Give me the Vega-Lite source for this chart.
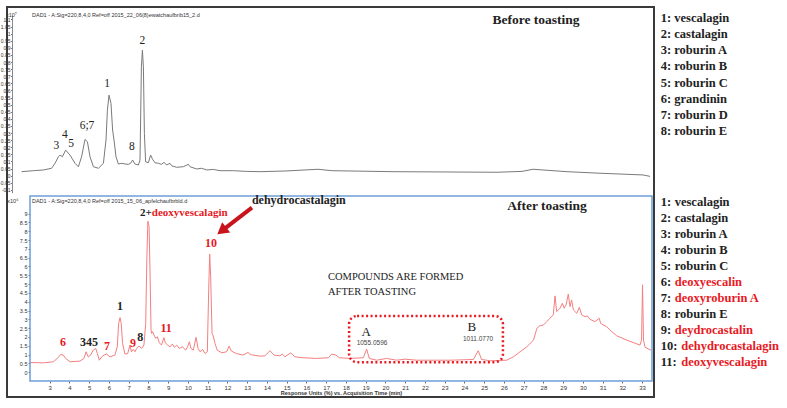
{
  "$schema": "https://vega.github.io/schema/vega-lite/v6.json",
  "width": 647,
  "height": 390,
  "autosize": "none",
  "padding": {"left": 7, "top": 7, "right": 133, "bottom": 11},
  "background": "white",
  "config": {"view": {"stroke": "#3a3a3a", "strokeWidth": 2}},
  "resolve": {"scale": {"x": "independent", "y": "independent", "color": "independent"}, "axis": {"x": "independent", "y": "independent"}},
  "layer": [
    {
      "encoding": {
        "x": {"field": "t", "type": "quantitative", "scale": {"domain": [1.5, 33.5], "range": [5, 645], "nice": false, "zero": false}, "axis": null},
        "y": {"field": "v", "type": "quantitative", "scale": {"domain": [-0.12, 1.13], "range": [185.7, 8.2], "nice": false, "zero": false},
          "axis": {"orient": "left", "offset": -5, "title": null, "values": [-0.1, -0.05, 0, 0.05, 0.1, 0.15, 0.2, 0.25, 0.3, 0.35, 0.4, 0.45, 0.5, 0.55, 0.6, 0.65, 0.7, 0.75, 0.8, 0.85, 0.9, 0.95, 1, 1.05, 1.1], "format": "~g", "labelExpr": "replace(datum.label, '−', '-')", "labelFontSize": 5, "labelFont": "Liberation Sans", "labelColor": "#333", "tickSize": 1.5, "tickColor": "#777", "labelPadding": 0.5, "domainColor": "#888", "grid": false}}
      },
      "layer": [
        {
          "data": {"values": [
            {"t": 1.98, "v": 0.028}, {"t": 2.57, "v": 0.035}, {"t": 3.07, "v": 0.04}, {"t": 3.48, "v": 0.052}, {"t": 3.65, "v": 0.087}, {"t": 3.82, "v": 0.133}, {"t": 3.9, "v": 0.145}, {"t": 4.02, "v": 0.133}, {"t": 4.18, "v": 0.18}, {"t": 4.4, "v": 0.145}, {"t": 4.65, "v": 0.087}, {"t": 4.82, "v": 0.063}, {"t": 4.98, "v": 0.133}, {"t": 5.15, "v": 0.255}, {"t": 5.27, "v": 0.239}, {"t": 5.4, "v": 0.133}, {"t": 5.57, "v": 0.063}, {"t": 5.82, "v": 0.052}, {"t": 6.07, "v": 0.087}, {"t": 6.2, "v": 0.251}, {"t": 6.27, "v": 0.461}, {"t": 6.35, "v": 0.567}, {"t": 6.45, "v": 0.508}, {"t": 6.53, "v": 0.321}, {"t": 6.6, "v": 0.251}, {"t": 6.7, "v": 0.133}, {"t": 6.82, "v": 0.082}, {"t": 6.98, "v": 0.087}, {"t": 7.15, "v": 0.082}, {"t": 7.32, "v": 0.08}, {"t": 7.43, "v": 0.087}, {"t": 7.53, "v": 0.11}, {"t": 7.65, "v": 0.082}, {"t": 7.82, "v": 0.075}, {"t": 7.9, "v": 0.11}, {"t": 7.97, "v": 0.766}, {"t": 8.02, "v": 0.883}, {"t": 8.07, "v": 0.766}, {"t": 8.12, "v": 0.297}, {"t": 8.18, "v": 0.098}, {"t": 8.32, "v": 0.091}, {"t": 8.43, "v": 0.145}, {"t": 8.53, "v": 0.115}, {"t": 8.65, "v": 0.091}, {"t": 8.82, "v": 0.087}, {"t": 8.98, "v": 0.08}, {"t": 9.1, "v": 0.094}, {"t": 9.23, "v": 0.075}, {"t": 9.4, "v": 0.087}, {"t": 9.48, "v": 0.07}, {"t": 9.73, "v": 0.059}, {"t": 10.07, "v": 0.063}, {"t": 10.32, "v": 0.08}, {"t": 10.4, "v": 0.063}, {"t": 10.73, "v": 0.047}, {"t": 10.98, "v": 0.052}, {"t": 11.23, "v": 0.04}, {"t": 11.57, "v": 0.044}, {"t": 11.9, "v": 0.035}, {"t": 12.57, "v": 0.035}, {"t": 13.23, "v": 0.03}, {"t": 13.9, "v": 0.028}, {"t": 15.2, "v": 0.033}, {"t": 16.8, "v": 0.045}, {"t": 17.5, "v": 0.035}, {"t": 20.55, "v": 0.028}, {"t": 25.75, "v": 0.024}, {"t": 27.0, "v": 0.03}, {"t": 27.55, "v": 0.045}, {"t": 28.05, "v": 0.04}, {"t": 29.25, "v": 0.028}, {"t": 30.9, "v": 0.017}, {"t": 33.05, "v": 0.005}, {"t": 33.4, "v": -0.005}
          ]},
          "mark": {"type": "line", "color": "#7a7a7a", "strokeWidth": 1}
        },
        {
          "data": {"values": [
            {"t": 3.72, "v": 0.211, "label": "3"}, {"t": 4.14, "v": 0.283, "label": "4"}, {"t": 4.45, "v": 0.223, "label": "5"}, {"t": 5.25, "v": 0.35, "label": "6;7"}, {"t": 6.25, "v": 0.646, "label": "1"}, {"t": 7.49, "v": 0.204, "label": "8"}, {"t": 8.02, "v": 0.951, "label": "2"}
          ]},
          "mark": {"type": "text", "font": "Liberation Serif", "fontSize": 11.5, "color": "#222", "align": "center", "baseline": "middle"},
          "encoding": {"text": {"field": "label"}}
        },
        {
          "data": {"values": [{"t": 27.7, "v": 1.096, "label": "Before toasting"}]},
          "mark": {"type": "text", "font": "Liberation Serif", "fontSize": 13.5, "fontWeight": "bold", "color": "#222", "align": "center", "baseline": "middle"},
          "encoding": {"text": {"field": "label"}}
        },
        {
          "data": {"values": [{"t": 2.5, "v": 1.13, "label": "DAD1 - A:Sig=220,8,4,0 Ref=off 2015_22_06(8)ewatchaufbrib15_2.d"}, {"t": 1.2, "v": 1.13, "label": "x10⁷"}]},
          "mark": {"type": "text", "font": "Liberation Sans", "fontSize": 5.5, "color": "#333", "align": "left", "baseline": "middle"},
          "encoding": {"text": {"field": "label"}}
        }
      ]
    },
    {
      "encoding": {
        "x": {"field": "t", "type": "quantitative", "scale": {"domain": [2, 33.5], "range": [23, 645], "nice": false, "zero": false},
          "axis": {"orient": "bottom", "offset": -16, "values": [3, 4, 5, 6, 7, 8, 9, 10, 11, 12, 13, 14, 15, 16, 17, 18, 19, 20, 21, 22, 23, 24, 25, 26, 27, 28, 29, 30, 31, 32, 33], "domain": false, "tickSize": 2, "tickColor": "#666", "labelFontSize": 6, "labelFont": "Liberation Sans", "labelColor": "#333", "labelPadding": 1, "grid": false, "title": "Response Units (%) vs. Acquisition Time (min)", "titleFontSize": 5.5, "titleFont": "Liberation Sans", "titleFontWeight": "bold", "titleColor": "#333", "titlePadding": 0}},
        "y": {"field": "v", "type": "quantitative", "scale": {"domain": [-0.5, 10], "range": [374, 189], "nice": false, "zero": false},
          "axis": {"orient": "left", "offset": -23, "title": null, "values": [0, 0.5, 1, 1.5, 2, 2.5, 3, 3.5, 4, 4.5, 5, 5.5, 6, 6.5, 7, 7.5, 8, 8.5, 9], "format": "~g", "domain": false, "tickSize": 2, "tickColor": "#777", "labelFontSize": 5.5, "labelFont": "Liberation Sans", "labelColor": "#333", "labelPadding": 1, "grid": false}}
      },
      "layer": [
        {
          "data": {"values": [{"t": 2, "t2": 33.5, "v": -0.5, "v2": 10}]},
          "mark": {"type": "rect", "fillOpacity": 0, "stroke": "#6e9fd9", "strokeWidth": 1.5},
          "encoding": {"x2": {"field": "t2"}, "y2": {"field": "v2"}}
        },
        {
          "data": {"values": [
            {"t": 2.03, "v": 0.55}, {"t": 2.68, "v": 0.53}, {"t": 3.18, "v": 0.59}, {"t": 3.38, "v": 0.78}, {"t": 3.55, "v": 1.0}, {"t": 3.69, "v": 0.97}, {"t": 3.81, "v": 0.78}, {"t": 4.03, "v": 0.59}, {"t": 4.53, "v": 0.63}, {"t": 4.73, "v": 0.78}, {"t": 4.84, "v": 1.16}, {"t": 4.95, "v": 0.87}, {"t": 5.07, "v": 0.97}, {"t": 5.2, "v": 1.25}, {"t": 5.33, "v": 1.35}, {"t": 5.41, "v": 1.06}, {"t": 5.51, "v": 0.68}, {"t": 5.63, "v": 0.87}, {"t": 5.75, "v": 0.97}, {"t": 5.88, "v": 1.03}, {"t": 6.05, "v": 0.87}, {"t": 6.3, "v": 0.97}, {"t": 6.42, "v": 1.44}, {"t": 6.49, "v": 2.77}, {"t": 6.56, "v": 3.1}, {"t": 6.62, "v": 2.77}, {"t": 6.69, "v": 1.63}, {"t": 6.81, "v": 1.03}, {"t": 6.95, "v": 1.06}, {"t": 7.06, "v": 1.54}, {"t": 7.14, "v": 1.16}, {"t": 7.23, "v": 1.29}, {"t": 7.32, "v": 1.16}, {"t": 7.4, "v": 1.35}, {"t": 7.52, "v": 1.48}, {"t": 7.66, "v": 1.35}, {"t": 7.77, "v": 1.54}, {"t": 7.86, "v": 2.77}, {"t": 7.92, "v": 6.57}, {"t": 7.97, "v": 8.57}, {"t": 8.03, "v": 8.28}, {"t": 8.08, "v": 5.62}, {"t": 8.13, "v": 2.39}, {"t": 8.16, "v": 2.2}, {"t": 8.21, "v": 2.3}, {"t": 8.28, "v": 2.11}, {"t": 8.36, "v": 1.92}, {"t": 8.45, "v": 2.01}, {"t": 8.55, "v": 1.67}, {"t": 8.66, "v": 1.54}, {"t": 8.78, "v": 1.96}, {"t": 8.85, "v": 1.67}, {"t": 8.97, "v": 1.54}, {"t": 9.09, "v": 1.44}, {"t": 9.21, "v": 1.6}, {"t": 9.31, "v": 1.41}, {"t": 9.43, "v": 1.54}, {"t": 9.56, "v": 1.35}, {"t": 9.73, "v": 1.44}, {"t": 9.88, "v": 1.25}, {"t": 9.98, "v": 1.44}, {"t": 10.07, "v": 1.73}, {"t": 10.15, "v": 1.35}, {"t": 10.27, "v": 1.25}, {"t": 10.41, "v": 1.98}, {"t": 10.51, "v": 1.35}, {"t": 10.61, "v": 1.16}, {"t": 10.74, "v": 1.29}, {"t": 10.86, "v": 1.06}, {"t": 10.98, "v": 1.16}, {"t": 11.05, "v": 4.67}, {"t": 11.1, "v": 6.7}, {"t": 11.15, "v": 5.43}, {"t": 11.22, "v": 2.2}, {"t": 11.28, "v": 2.07}, {"t": 11.37, "v": 1.63}, {"t": 11.48, "v": 1.25}, {"t": 11.71, "v": 1.1}, {"t": 11.96, "v": 1.16}, {"t": 12.08, "v": 1.48}, {"t": 12.2, "v": 1.2}, {"t": 12.45, "v": 1.06}, {"t": 12.79, "v": 0.97}, {"t": 13.04, "v": 1.12}, {"t": 13.16, "v": 1.0}, {"t": 13.65, "v": 0.91}, {"t": 13.9, "v": 0.93}, {"t": 14.15, "v": 1.22}, {"t": 14.36, "v": 0.97}, {"t": 14.66, "v": 0.93}, {"t": 14.78, "v": 1.03}, {"t": 14.91, "v": 0.87}, {"t": 15.2, "v": 1.1}, {"t": 15.42, "v": 0.87}, {"t": 15.84, "v": 0.82}, {"t": 16.52, "v": 0.78}, {"t": 17.11, "v": 0.82}, {"t": 17.28, "v": 1.03}, {"t": 17.5, "v": 0.97}, {"t": 17.66, "v": 0.82}, {"t": 18.21, "v": 0.78}, {"t": 18.88, "v": 0.82}, {"t": 19.05, "v": 1.31}, {"t": 19.18, "v": 0.78}, {"t": 19.56, "v": 0.68}, {"t": 20.06, "v": 0.78}, {"t": 20.57, "v": 0.68}, {"t": 20.99, "v": 0.74}, {"t": 21.58, "v": 0.68}, {"t": 23.27, "v": 0.68}, {"t": 24.45, "v": 0.72}, {"t": 24.7, "v": 1.22}, {"t": 24.87, "v": 0.72}, {"t": 25.3, "v": 0.65}, {"t": 26.14, "v": 0.68}, {"t": 26.48, "v": 0.87}, {"t": 26.82, "v": 1.16}, {"t": 27.16, "v": 1.44}, {"t": 27.5, "v": 1.82}, {"t": 27.67, "v": 2.49}, {"t": 27.8, "v": 2.62}, {"t": 28.0, "v": 2.68}, {"t": 28.17, "v": 2.87}, {"t": 28.33, "v": 3.06}, {"t": 28.5, "v": 3.25}, {"t": 28.59, "v": 4.33}, {"t": 28.67, "v": 3.44}, {"t": 28.84, "v": 3.63}, {"t": 28.96, "v": 3.91}, {"t": 29.05, "v": 3.63}, {"t": 29.15, "v": 3.82}, {"t": 29.26, "v": 4.43}, {"t": 29.35, "v": 3.72}, {"t": 29.43, "v": 4.1}, {"t": 29.52, "v": 3.53}, {"t": 29.69, "v": 3.34}, {"t": 29.82, "v": 3.68}, {"t": 29.94, "v": 3.25}, {"t": 30.11, "v": 3.15}, {"t": 30.23, "v": 3.19}, {"t": 30.36, "v": 3.0}, {"t": 30.61, "v": 2.87}, {"t": 30.83, "v": 3.06}, {"t": 30.9, "v": 2.77}, {"t": 31.2, "v": 2.58}, {"t": 31.46, "v": 2.3}, {"t": 31.71, "v": 2.07}, {"t": 32.22, "v": 1.82}, {"t": 32.89, "v": 1.54}, {"t": 32.97, "v": 1.82}, {"t": 33.02, "v": 4.96}, {"t": 33.07, "v": 1.82}, {"t": 33.15, "v": 1.41}, {"t": 33.45, "v": 1.25}
          ]},
          "mark": {"type": "line", "color": "#f47f7f", "strokeWidth": 1}
        },
        {
          "data": {"values": [{"t": 18.16, "t2": 25.95, "v": 3.19, "v2": 0.57}]},
          "mark": {"type": "rect", "fillOpacity": 0, "stroke": "#e8191f", "strokeWidth": 2.5, "strokeDash": [2, 2.5], "cornerRadius": 8},
          "encoding": {"x2": {"field": "t2"}, "y2": {"field": "v2"}}
        },
        {
          "data": {"values": [{"t": 13.24, "t2": 11.71, "v": 9.34, "v2": 8.02}]},
          "mark": {"type": "rule", "color": "#c8141c", "strokeWidth": 4},
          "encoding": {"x2": {"field": "t2"}, "y2": {"field": "v2"}}
        },
        {
          "data": {"values": [{"t": 11.71, "v": 8.02}]},
          "mark": {"type": "point", "shape": "triangle-up", "filled": true, "color": "#c8141c", "size": 170, "angle": 232, "opacity": 1}
        },
        {
          "data": {"values": [
            {"t": 3.67, "v": 1.71, "label": "6", "kind": "new"}, {"t": 4.99, "v": 1.71, "label": "345", "kind": "old"}, {"t": 5.9, "v": 1.48, "label": "7", "kind": "new"}, {"t": 6.56, "v": 3.76, "label": "1", "kind": "old"}, {"t": 7.22, "v": 1.65, "label": "9", "kind": "new"}, {"t": 7.58, "v": 1.98, "label": "8", "kind": "old"}, {"t": 8.89, "v": 2.51, "label": "11", "kind": "new"}, {"t": 11.17, "v": 7.35, "label": "10", "kind": "new"}
          ]},
          "mark": {"type": "text", "font": "Liberation Serif", "fontSize": 12, "fontWeight": "bold", "align": "center", "baseline": "middle"},
          "encoding": {"text": {"field": "label"}, "color": {"field": "kind", "type": "nominal", "scale": {"domain": ["old", "new"], "range": ["#222222", "#e8191f"]}, "legend": null}}
        },
        {
          "data": {"values": [{"t": 7.57, "v": 9.06, "label": "deoxyvescalagin"}]},
          "mark": {"type": "text", "font": "Liberation Serif", "fontSize": 11, "fontWeight": "bold", "color": "#e8191f", "align": "left", "baseline": "middle", "dx": 11.8},
          "encoding": {"text": {"field": "label"}}
        },
        {
          "data": {"values": [{"t": 7.57, "v": 9.06, "label": "2+"}]},
          "mark": {"type": "text", "font": "Liberation Serif", "fontSize": 11, "fontWeight": "bold", "color": "#222", "align": "left", "baseline": "middle"},
          "encoding": {"text": {"field": "label"}}
        },
        {
          "data": {"values": [{"t": 13.24, "v": 9.8, "label": "dehydrocastalagin"}]},
          "mark": {"type": "text", "font": "Liberation Serif", "fontSize": 12, "fontWeight": "bold", "color": "#222", "align": "left", "baseline": "middle"},
          "encoding": {"text": {"field": "label"}}
        },
        {
          "data": {"values": [{"t": 28.18, "v": 9.46, "label": "After toasting"}]},
          "mark": {"type": "text", "font": "Liberation Serif", "fontSize": 13.5, "fontWeight": "bold", "color": "#222", "align": "center", "baseline": "middle"},
          "encoding": {"text": {"field": "label"}}
        },
        {
          "data": {"values": [{"t": 17.09, "v": 5.41, "label": "COMPOUNDS ARE FORMED"}, {"t": 17.09, "v": 4.56, "label": "AFTER TOASTING"}]},
          "mark": {"type": "text", "font": "Liberation Serif", "fontSize": 10.5, "color": "#222", "align": "left", "baseline": "middle"},
          "encoding": {"text": {"field": "label"}}
        },
        {
          "data": {"values": [{"t": 19.02, "v": 2.28, "label": "A"}, {"t": 24.38, "v": 2.56, "label": "B"}]},
          "mark": {"type": "text", "font": "Liberation Serif", "fontSize": 13, "color": "#222", "align": "center", "baseline": "middle"},
          "encoding": {"text": {"field": "label"}}
        },
        {
          "data": {"values": [{"t": 19.32, "v": 1.65, "label": "1055.0596"}, {"t": 24.69, "v": 1.88, "label": "1011.0770"}]},
          "mark": {"type": "text", "font": "Liberation Sans", "fontSize": 6.5, "color": "#444", "align": "center", "baseline": "middle"},
          "encoding": {"text": {"field": "label"}}
        },
        {
          "data": {"values": [{"t": 2.1, "v": 9.69, "label": "DAD1 - A:Sig=220,8,4,0 Ref=off 2015_15_06_apfelchaufbrbld.d"}, {"t": 0.85, "v": 9.69, "label": "x10⁶"}]},
          "mark": {"type": "text", "font": "Liberation Sans", "fontSize": 5.5, "color": "#333", "align": "left", "baseline": "middle"},
          "encoding": {"text": {"field": "label"}}
        }
      ]
    },
    {
      "data": {"values": [
        {"i": 1, "col": "L", "label": "1: vescalagin"},
        {"i": 2, "col": "L", "label": "2: castalagin"},
        {"i": 3, "col": "L", "label": "3: roburin A"},
        {"i": 4, "col": "L", "label": "4: roburin B"},
        {"i": 5, "col": "L", "label": "5: roburin C"},
        {"i": 6, "col": "L", "label": "6: grandinin"},
        {"i": 7, "col": "L", "label": "7: roburin D"},
        {"i": 8, "col": "L", "label": "8: roburin E"}
      ]},
      "encoding": {
        "x": {"field": "col", "type": "nominal", "scale": {"type": "point", "range": [653.7, 653.7]}, "axis": null},
        "y": {"field": "i", "type": "ordinal", "scale": {"type": "point", "domain": [1, 2, 3, 4, 5, 6, 7, 8], "range": [11.3, 123.7], "padding": 0}, "axis": null}
      },
      "layer": [
        {
          "mark": {"type": "text", "font": "Liberation Serif", "fontSize": 12.5, "fontWeight": "bold", "color": "#222", "align": "left", "baseline": "middle"},
          "encoding": {"text": {"field": "label"}}
        }
      ]
    },
    {
      "data": {"values": [
        {"i": 1, "col": "L", "num": "1:", "name": "vescalagin", "kind": "old"},
        {"i": 2, "col": "L", "num": "2:", "name": "castalagin", "kind": "old"},
        {"i": 3, "col": "L", "num": "3:", "name": "roburin A", "kind": "old"},
        {"i": 4, "col": "L", "num": "4:", "name": "roburin B", "kind": "old"},
        {"i": 5, "col": "L", "num": "5:", "name": "roburin C", "kind": "old"},
        {"i": 6, "col": "L", "num": "6:", "name": "deoxyescalin", "kind": "new"},
        {"i": 7, "col": "L", "num": "7:", "name": "deoxyroburin A", "kind": "new"},
        {"i": 8, "col": "L", "num": "8:", "name": "roburin E", "kind": "old"},
        {"i": 9, "col": "L", "num": "9:", "name": "deydrocastalin", "kind": "new"},
        {"i": 10, "col": "L", "num": "10:", "name": "dehydrocastalagin", "kind": "new"},
        {"i": 11, "col": "L", "num": "11:", "name": "deoxyvescalagin", "kind": "new"}
      ]},
      "encoding": {
        "x": {"field": "col", "type": "nominal", "scale": {"type": "point", "range": [653.7, 653.7]}, "axis": null},
        "y": {"field": "i", "type": "ordinal", "scale": {"type": "point", "domain": [1, 2, 3, 4, 5, 6, 7, 8, 9, 10, 11], "range": [194.7, 354.7], "padding": 0}, "axis": null},
        "color": {"field": "kind", "type": "nominal", "scale": {"domain": ["old", "new"], "range": ["#222222", "#e8191f"]}, "legend": null}
      },
      "layer": [
        {
          "transform": [{"filter": "datum.i < 10"}],
          "mark": {"type": "text", "font": "Liberation Serif", "fontSize": 12.5, "fontWeight": "bold", "align": "left", "baseline": "middle", "dx": 14},
          "encoding": {"text": {"field": "name"}}
        },
        {
          "transform": [{"filter": "datum.i >= 10"}],
          "mark": {"type": "text", "font": "Liberation Serif", "fontSize": 12.5, "fontWeight": "bold", "align": "left", "baseline": "middle", "dx": 20.5},
          "encoding": {"text": {"field": "name"}}
        },
        {
          "mark": {"type": "text", "font": "Liberation Serif", "fontSize": 12.5, "fontWeight": "bold", "align": "left", "baseline": "middle"},
          "encoding": {"text": {"field": "num"}, "color": {"value": "#222"}}
        }
      ]
    }
  ]
}
